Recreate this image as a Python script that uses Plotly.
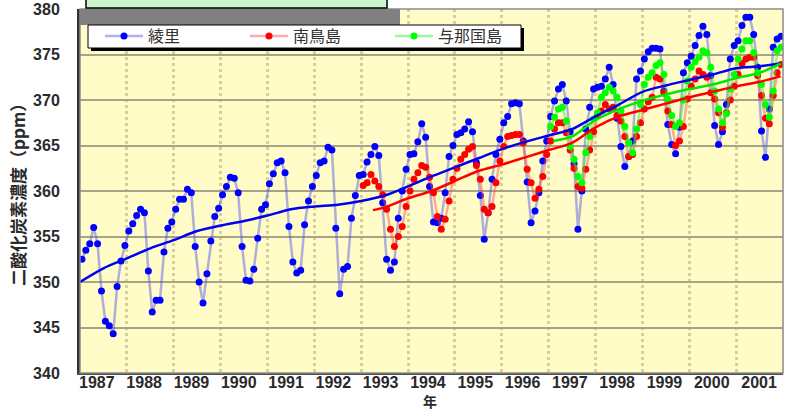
import plotly.graph_objects as go

# ---------------- data (monthly means, ppm) ----------------
ryori_start = 1987
ryori = [
    352.5, 353.5, 354.2, 356.0, 354.2, 349.0, 345.7, 345.2, 344.3, 349.5, 352.3, 354.0,  # 1987
    355.6, 356.4, 357.3, 358.0, 357.6, 351.2, 346.7, 348.0, 348.0, 353.3, 355.9, 356.6,  # 1988
    358.0, 359.1, 359.1, 360.2, 359.8, 353.9, 350.0, 347.7, 350.9, 354.5, 357.2, 358.1,  # 1989
    359.6, 360.5, 361.5, 361.4, 359.8, 353.9, 350.2, 350.1, 351.4, 354.8, 358.0, 358.5,  # 1990
    360.8, 361.9, 363.1, 363.3, 362.0, 356.1, 352.2, 351.0, 351.3, 356.3, 358.9, 360.5,  # 1991
    361.7, 363.1, 363.3, 364.8, 364.5, 355.9, 348.7, 351.4, 351.7, 357.0, 359.5, 361.7,  # 1992
    361.8, 363.2, 364.0, 364.9, 363.9, 358.7, 352.5, 351.3, 352.2, 357.0, 360.0, 362.4,  # 1993
    364.0, 364.1, 365.4, 367.4, 365.9, 360.5, 356.6, 356.5, 357.0, 359.8, 363.8, 365.0,  # 1994
    366.2, 366.4, 366.8, 367.6, 366.5, 363.1, 359.5, 354.7, 357.6, 361.3, 364.0, 365.7,  # 1995
    367.5, 368.2, 369.6, 369.7, 369.6, 365.5, 361.0, 356.5, 357.8, 359.8, 363.3, 365.5,  # 1996
    368.2, 369.9, 371.2, 371.7, 369.9, 366.5, 363.0, 355.8, 360.0, 366.8, 369.2, 371.2,  # 1997
    371.4, 371.5, 372.3, 373.6, 371.7, 368.0, 364.9, 362.7, 363.8, 365.5, 372.3, 373.2,  # 1998
    374.5, 375.3, 375.7, 375.7, 375.6, 371.0, 367.3, 365.1, 364.1, 367.0, 373.0, 374.1,  # 1999
    374.8, 376.0, 377.1, 378.1, 377.2, 372.7, 367.2, 365.1, 366.5, 369.5, 374.5, 376.0,  # 2000
    376.5, 378.2, 379.1, 379.1, 377.2, 373.6, 366.6, 363.7, 369.0, 375.8, 376.7, 377.0,  # 2001
]

minamitori_start = 1993
minamitori = [
    360.6, 360.9, 361.8, 361.1, 360.5, 359.6, 358.0, 355.8, 353.9, 355.0, 356.1, 358.3,  # 1993
    360.0, 361.3, 362.0, 362.8, 362.6, 361.5, 359.8, 357.2, 355.8, 356.9, 358.9, 361.3,  # 1994
    362.5, 363.5, 364.0, 364.6, 364.9, 362.8, 361.3, 358.0, 357.6, 358.3, 360.9, 363.3,  # 1995
    364.9, 366.0, 366.1, 366.2, 366.2, 365.3, 362.4, 360.9, 359.2, 360.2, 361.6, 364.0,  # 1996
    365.5, 366.8, 367.5, 367.5, 366.4, 364.5, 362.5, 360.5, 360.3, 362.4, 364.5, 366.5,  # 1997
    368.3, 368.8, 369.5, 369.0, 369.2, 368.3, 367.7, 366.0, 363.8, 364.0, 366.0, 367.5,  # 1998
    369.0, 369.8, 370.3, 372.5, 372.3, 370.8, 368.8, 367.3, 365.0, 365.5, 367.1, 370.1,  # 1999
    371.5, 372.3, 373.2, 372.8, 372.5, 370.8, 370.1, 368.6, 367.0, 368.6, 370.0, 371.5,  # 2000
    372.8, 374.0, 374.5, 374.7, 374.7, 372.7, 370.5, 368.0, 367.4, 370.5, 373.0, 373.9,  # 2001
]

yonaguni_start = 1997
yonaguni = [
    367.1, 368.1, 369.0, 369.2, 367.7, 364.9, 363.5, 361.6, 360.9, 364.2, 366.0, 367.9,  # 1997
    368.6, 370.3, 370.8, 371.4, 371.0, 370.3, 368.8, 367.1, 365.3, 364.2, 366.8, 369.5,  # 1998
    371.7, 372.5, 373.0, 373.8, 374.1, 372.8, 370.1, 368.3, 367.1, 367.5, 370.0, 372.1,  # 1999
    373.6, 374.2, 374.7, 375.4, 375.2, 373.6, 371.0, 369.0, 367.5, 368.5, 371.2, 372.8,  # 2000
    374.5, 375.6, 376.5, 376.5, 375.2, 373.0, 371.7, 369.5, 368.1, 371.0, 375.4, 375.8,  # 2001
]

# trend curves (read at half-year points)
ryori_trend_t = [1987.0, 1987.5, 1988.0, 1988.5, 1989.0, 1989.5, 1990.0, 1990.5, 1991.0, 1991.5,
                 1992.0, 1992.5, 1993.0, 1993.5, 1994.0, 1994.5, 1995.0, 1995.5, 1996.0, 1996.5,
                 1997.0, 1997.5, 1998.0, 1998.5, 1999.0, 1999.5, 2000.0, 2000.5, 2001.0, 2001.5, 2001.95]
ryori_trend = [350.0, 351.5, 352.6, 353.7, 354.6, 355.6, 356.2, 356.7, 357.3, 358.0,
               358.3, 358.5, 358.9, 359.5, 360.5, 361.6, 362.6, 363.6, 364.6, 365.4,
               366.1, 366.8, 368.2, 369.5, 370.9, 371.6, 372.2, 372.8, 373.5, 373.7, 374.0]

minamitori_trend_t = [1993.25, 1993.5, 1994.0, 1994.5, 1995.0, 1995.5, 1996.0, 1996.5, 1997.0, 1997.5,
                      1998.0, 1998.5, 1999.0, 1999.5, 2000.0, 2000.5, 2001.0, 2001.5, 2001.95]
minamitori_trend = [357.9, 358.2, 359.2, 360.0, 361.1, 362.2, 362.9, 363.7, 364.5, 365.3,
                    367.0, 368.2, 368.9, 369.6, 370.3, 370.9, 371.5, 372.0, 372.6]

yonaguni_trend_t = [1997.1, 1997.5, 1998.0, 1998.5, 1999.0, 1999.5, 2000.0, 2000.5, 2001.0, 2001.5, 2001.95]
yonaguni_trend = [365.5, 366.0, 367.8, 369.0, 369.9, 370.6, 371.2, 371.7, 372.4, 373.0, 374.0]

year_labels = ["1987", "1988", "1989", "1990", "1991", "1992", "1993", "1994",
               "1995", "1996", "1997", "1998", "1999", "2000", "2001"]
y_ticks = [340, 345, 350, 355, 360, 365, 370, 375, 380]

names = ["綾里", "南鳥島", "与那国島"]


def month_x(start, n):
    return [start + (i + 0.5) / 12.0 for i in range(n)]


fig = go.Figure()

series = [
    (names[0], ryori_start, ryori, "#0000FF", "rgba(80,80,235,0.45)"),
    (names[1], minamitori_start, minamitori, "#FF0000", "rgba(255,70,70,0.45)"),
    (names[2], yonaguni_start, yonaguni, "#00FF00", "rgba(60,235,60,0.5)"),
]
for name, start, vals, mcol, lcol in series:
    fig.add_trace(go.Scatter(
        x=month_x(start, len(vals)), y=vals, name=name, mode="lines+markers",
        line=dict(color=lcol, width=2.5),
        marker=dict(color=mcol, size=7, line=dict(width=0)),
    ))

for t, v, col in [(ryori_trend_t, ryori_trend, "#0000F0"),
                  (minamitori_trend_t, minamitori_trend, "#FF0000"),
                  (yonaguni_trend_t, yonaguni_trend, "#00E800")]:
    fig.add_trace(go.Scatter(x=t, y=v, mode="lines", showlegend=False,
                             line=dict(color=col, width=2.5, shape="spline", smoothing=0.8),
                             hoverinfo="skip"))

# label positions (Excel category-style labels)
label_pos = [1987.36 + 1.0092 * i for i in range(len(year_labels))]

L, R, T, B = 80, 2, 9, 37
W, H = 785, 410
pw, ph = W - L - R, H - T - B


def px_x(p):
    return (p - L) / pw


def px_y(p):
    return (H - B - p) / ph


tick_font = dict(family="Liberation Sans, Arial", size=16, color="#2a2a2a", weight="bold")

fig.update_layout(
    width=W, height=H,
    margin=dict(l=L, r=R, t=T, b=B),
    paper_bgcolor="white",
    plot_bgcolor="#FFFCC8",
    showlegend=True,
    legend=dict(orientation="h", x=px_x(100), y=px_y(19), xanchor="left", yanchor="top",
                bgcolor="rgba(0,0,0,0)", borderwidth=0,
                font=dict(family="Noto Sans CJK JP", size=16, color="#333333"),
                itemwidth=38, entrywidth=92, entrywidthmode="pixels",
                tracegroupgap=0),
    xaxis=dict(range=[1987, 2002], showgrid=False, zeroline=False,
               tickmode="array", tickvals=label_pos, ticktext=year_labels,
               ticks="", tickfont=tick_font, ticklabelstandoff=-6,
               ticklabeloverflow="allow",
               showline=True, linecolor="#4a4a4a", linewidth=2,
               minor=dict(tick0=1987, dtick=1, showgrid=True, gridcolor="#D8D09C",
                          gridwidth=2.5, griddash="dot", ticks="")),
    yaxis=dict(range=[340, 380], tickvals=y_ticks, ticks="", showgrid=True,
               gridcolor="#A7A386", gridwidth=1.6, zeroline=False,
               tickfont=tick_font, ticklabelstandoff=14,
               showline=True, linecolor="#333333", linewidth=3),
    shapes=[
        # plot frame (top/right gray edges)
        dict(type="rect", xref="paper", yref="paper", x0=0, x1=1, y0=0, y1=1,
             line=dict(color="#8a8a8a", width=1.5), layer="above"),
        # gray band behind the legend area
        dict(type="rect", xref="paper", yref="paper", x0=px_x(80), x1=px_x(400),
             y0=px_y(25), y1=px_y(9), fillcolor="#808080", line=dict(width=0), layer="above"),
        # light green box at top
        dict(type="rect", xref="paper", yref="paper", x0=px_x(86), x1=px_x(387),
             y0=px_y(8), y1=px_y(-3), fillcolor="#CCF7CC", line=dict(color="black", width=1.5),
             layer="above"),
        # legend shadow
        dict(type="rect", xref="paper", yref="paper", x0=px_x(91), x1=px_x(524),
             y0=px_y(51), y1=px_y(28), fillcolor="black", line=dict(width=0), layer="above"),
        # legend box
        dict(type="rect", xref="paper", yref="paper", x0=px_x(88), x1=px_x(521),
             y0=px_y(48), y1=px_y(25), fillcolor="white", line=dict(color="black", width=1),
             layer="above"),
    ],
    annotations=[
        dict(text="二酸化炭素濃度（ppm）", textangle=-90, xref="paper", yref="paper",
             x=px_x(17), y=0.5, showarrow=False, xanchor="center", yanchor="middle",
             font=dict(family="Noto Sans CJK JP", size=17, color="#2a2a2a", weight="bold")),
        dict(text="年", xref="paper", yref="paper", x=px_x(430), y=px_y(401),
             showarrow=False, xanchor="center", yanchor="middle",
             font=dict(family="Noto Sans CJK JP", size=14, color="#2a2a2a", weight="bold")),
    ],
)

fig.write_html("out.html", config={"displayModeBar": False},
               post_script="document.body.style.margin='0px';document.body.style.overflow='hidden';")
